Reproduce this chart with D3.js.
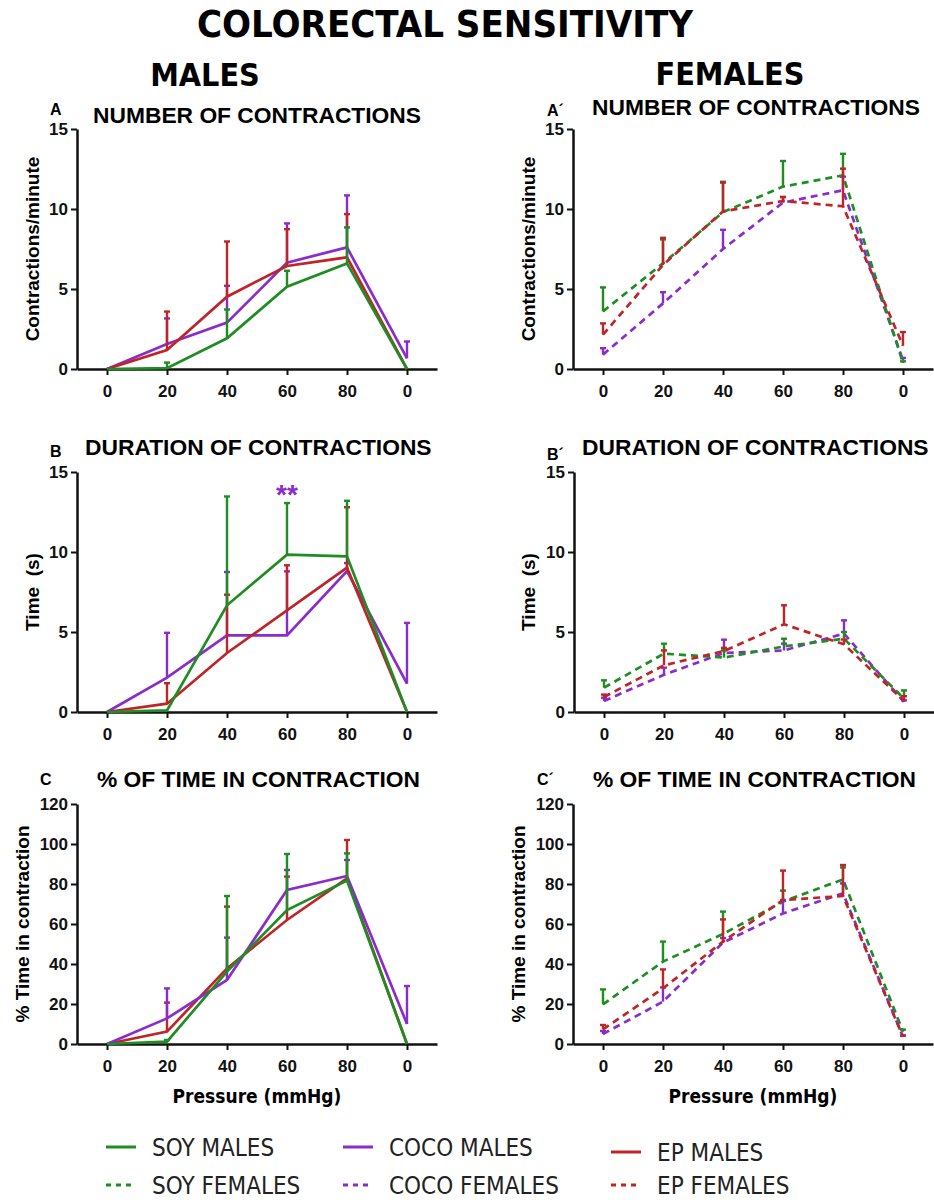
<!DOCTYPE html>
<html>
<head>
<meta charset="utf-8">
<script src="https://cdn.jsdelivr.net/npm/d3@7"></script>
<style>
  body { margin: 0; background: #fff; }
  svg { display: block; }
  .narrow { font-family: "Liberation Sans Narrow", "Arial Narrow", "DejaVu Sans Condensed", sans-serif; }
  .sans { font-family: "Liberation Sans", Arial, sans-serif; }
</style>
</head>
<body>
<div id="chart"></div>
<script>
// x categories (pressure steps, mmHg)
const pressures = ["0", "20", "40", "60", "80", "0"];

// A - number of contractions, males
const soyMalesContr = [0, 0.05, 1.92, 5.14, 6.6, 0];
const soyMalesContrErr = [0, 0.35, 1.8, 1.0, 2.25, 0];
const cocoMalesContr = [0, 1.56, 2.9, 6.65, 7.6, 0.67];
const cocoMalesContrErr = [0, 1.6, 2.3, 2.45, 3.25, 1.05];
const epMalesContr = [0, 1.19, 4.52, 6.44, 6.98, 0];
const epMalesContrErr = [0, 2.4, 3.45, 2.3, 2.7, 0];

// A' - number of contractions, females
const soyFemalesContr = [3.6, 6.6, 9.8, 11.4, 12.1, 0.38];
const soyFemalesContrErr = [1.5, 1.5, 1.9, 1.6, 1.35, 0.1];
const cocoFemalesContr = [0.9, 4.1, 7.5, 10.4, 11.17, 0.54];
const cocoFemalesContrErr = [0.4, 0.7, 1.2, 0.35, 0.85, 0.15];
const epFemalesContr = [2.15, 6.5, 9.85, 10.5, 10.17, 1.46];
const epFemalesContrErr = [0.7, 1.7, 1.8, 0.25, 2.35, 0.85];

// B - duration of contractions, males
const soyMalesDur = [0, 0.1, 6.67, 9.83, 9.73, 0];
const soyMalesDurErr = [0, 0, 6.8, 3.23, 3.47, 0];
const cocoMalesDur = [0, 2.15, 4.79, 4.79, 8.81, 1.77];
const cocoMalesDurErr = [0, 2.8, 3.96, 4.0, 0.5, 3.8];
const epMalesDur = [0, 0.52, 3.69, 6.35, 9.02, 0];
const epMalesDurErr = [0, 1.28, 3.64, 2.82, 3.78, 0];

// B' - duration of contractions, females
const soyFemalesDur = [1.52, 3.65, 3.4, 4.1, 4.58, 0.83];
const soyFemalesDurErr = [0.46, 0.62, 0.45, 0.48, 0.42, 0.52];
const cocoFemalesDur = [0.69, 2.33, 3.69, 3.85, 4.9, 0.63];
const cocoFemalesDurErr = [0.2, 0.44, 0.83, 0.42, 0.83, 0.1];
const epFemalesDur = [0.94, 2.92, 3.81, 5.48, 4.23, 0.69];
const epFemalesDurErr = [0.15, 0.93, 0.2, 1.19, 0.3, 0.3];

// C - % of time in contraction, males
const soyMalesPct = [0, 1.2, 36.2, 67, 81.7, 0];
const soyMalesPctErr = [0, 0.8, 37.8, 28, 13.6, 0];
const cocoMalesPct = [0, 12.8, 32, 77, 84, 10];
const cocoMalesPctErr = [0, 15, 21.2, 10, 8, 19];
const epMalesPct = [0, 6.2, 37.8, 62, 82.8, 0];
const epMalesPctErr = [0, 14.5, 30.9, 21.7, 19.2, 0];

// C' - % of time in contraction, females
const soyFemalesPct = [19.8, 41.2, 55, 71.2, 82.3, 6.2];
const soyFemalesPctErr = [7.5, 10, 11.2, 5.5, 6, 1];
const cocoFemalesPct = [5, 21.2, 50.7, 65.3, 75.3, 3.7];
const cocoFemalesPctErr = [1.5, 7.1, 2.3, 6.7, 5, 0.5];
const epFemalesPct = [7.3, 27.8, 51.2, 72, 74, 3.7];
const epFemalesPctErr = [2.2, 9.5, 11.1, 14.7, 15.5, 0.5];

const countTicks = [0, 5, 10, 15];
const pctTicks = [0, 20, 40, 60, 80, 100, 120];

const GREEN = "#1f8c24";
const PURPLE = "#8a2ccb";
const RED = "#bf2427";

const legendItems = [
    { name: "SOY MALES", color: GREEN, dashed: false, col: 0, row: 0 },
    { name: "SOY FEMALES", color: GREEN, dashed: true, col: 0, row: 1 },
    { name: "COCO MALES", color: PURPLE, dashed: false, col: 1, row: 0 },
    { name: "COCO FEMALES", color: PURPLE, dashed: true, col: 1, row: 1 },
    { name: "EP MALES", color: RED, dashed: false, col: 2, row: 0 },
    { name: "EP FEMALES", color: RED, dashed: true, col: 2, row: 1 }
];

const width = 934;
const height = 1200;

const svg = d3.select("#chart")
    .append("svg")
    .attr("width", width)
    .attr("height", height);

svg.append("text")
    .attr("class", "narrow")
    .attr("x", 445).attr("y", 37)
    .attr("text-anchor", "middle")
    .attr("font-weight", "bold")
    .attr("font-size", 38)
    .text("COLORECTAL SENSITIVITY");

svg.append("text")
    .attr("class", "narrow")
    .attr("x", 205).attr("y", 86)
    .attr("text-anchor", "middle")
    .attr("font-weight", "bold")
    .attr("font-size", 32)
    .text("MALES");

svg.append("text")
    .attr("class", "narrow")
    .attr("x", 730).attr("y", 85)
    .attr("text-anchor", "middle")
    .attr("font-weight", "bold")
    .attr("font-size", 32)
    .text("FEMALES");

function drawPanel(p) {
    const g = svg.append("g");

    const x = d3.scalePoint()
        .domain(d3.range(pressures.length))
        .range([p.axisX, p.axisX + 360])
        .padding(0.5);

    const y = d3.scaleLinear()
        .domain([0, p.yMax])
        .range([p.y0, p.yTop]);

    // y axis
    const yAxis = g.append("g")
        .attr("transform", "translate(" + p.axisX + ",0)")
        .call(d3.axisLeft(y).tickValues(p.ticks).tickSize(6).tickSizeOuter(0).tickPadding(3));

    // x axis
    const xAxis = g.append("g")
        .attr("transform", "translate(0," + p.y0 + ")")
        .call(d3.axisBottom(x).tickFormat(i => pressures[i]).tickSize(6).tickSizeOuter(0).tickPadding(10));

    [yAxis, xAxis].forEach(a => {
        a.select(".domain").attr("stroke", "#111").attr("stroke-width", 2.5);
        a.selectAll(".tick line").attr("stroke", "#111").attr("stroke-width", 2);
        a.selectAll(".tick text")
            .attr("class", "sans")
            .attr("fill", "#111")
            .attr("font-weight", "bold")
            .attr("font-size", 17);
    });

    // series
    const line = d3.line()
        .x((d, i) => x(i))
        .y(d => y(d));

    p.series.forEach(s => {
        const sg = g.append("g");
        sg.append("path")
            .datum(s.values)
            .attr("d", line)
            .attr("fill", "none")
            .attr("stroke", s.color)
            .attr("stroke-width", 2.7)
            .attr("stroke-dasharray", s.dashed ? "7,5" : null);

        const bars = s.values.map((v, i) => ({ i: i, v: v, e: s.errs[i] })).filter(d => d.e > 0);

        sg.selectAll(".err")
            .data(bars)
            .enter()
            .append("line")
            .attr("x1", d => x(d.i)).attr("x2", d => x(d.i))
            .attr("y1", d => y(d.v)).attr("y2", d => y(d.v + d.e))
            .attr("stroke", s.color)
            .attr("stroke-width", 2.4);

        sg.selectAll(".cap")
            .data(bars)
            .enter()
            .append("line")
            .attr("x1", d => x(d.i) - 3).attr("x2", d => x(d.i) + 3)
            .attr("y1", d => y(d.v + d.e)).attr("y2", d => y(d.v + d.e))
            .attr("stroke", s.color)
            .attr("stroke-width", 2.4);
    });

    // labels
    g.append("text")
        .attr("class", "sans")
        .attr("x", p.letterX).attr("y", p.letterY)
        .attr("font-weight", "bold")
        .attr("font-size", 16)
        .text(p.letter);

    g.append("text")
        .attr("class", "sans")
        .attr("x", p.titleX).attr("y", p.titleY)
        .attr("font-weight", "bold")
        .attr("font-size", 22.8)
        .text(p.title);

    g.append("text")
        .attr("class", "sans")
        .attr("transform", "translate(" + p.labelX + "," + ((p.y0 + p.yTop) / 2) + ") rotate(-90)")
        .attr("text-anchor", "middle")
        .attr("dy", "0.35em")
        .attr("font-weight", "bold")
        .attr("font-size", 19)
        .attr("xml:space", "preserve")
        .text(p.ylabel);

    if (p.xlabel) {
        g.append("text")
            .attr("class", "narrow")
            .attr("x", p.axisX + 180).attr("y", p.y0 + 59)
            .attr("text-anchor", "middle")
            .attr("font-weight", "bold")
            .attr("font-size", 19)
            .text(p.xlabel);
    }

    if (p.star) {
        g.append("text")
            .attr("class", "sans")
            .attr("x", x(p.star.i)).attr("y", y(p.star.v))
            .attr("text-anchor", "middle")
            .attr("font-weight", "bold")
            .attr("font-size", 28)
            .attr("fill", PURPLE)
            .text("**");
    }
}

drawPanel({
    axisX: 77, yTop: 129, y0: 369, yMax: 15, ticks: countTicks,
    letter: "A", letterX: 50, letterY: 115,
    title: "NUMBER OF CONTRACTIONS", titleX: 93, titleY: 123,
    ylabel: "Contractions/minute", labelX: 32,
    series: [
        { values: cocoMalesContr, errs: cocoMalesContrErr, color: PURPLE },
        { values: epMalesContr, errs: epMalesContrErr, color: RED },
        { values: soyMalesContr, errs: soyMalesContrErr, color: GREEN }
    ]
});

drawPanel({
    axisX: 573, yTop: 129, y0: 369, yMax: 15, ticks: countTicks,
    letter: "A´", letterX: 547, letterY: 116,
    title: "NUMBER OF CONTRACTIONS", titleX: 592, titleY: 115,
    ylabel: "Contractions/minute", labelX: 528,
    series: [
        { values: cocoFemalesContr, errs: cocoFemalesContrErr, color: PURPLE, dashed: true },
        { values: soyFemalesContr, errs: soyFemalesContrErr, color: GREEN, dashed: true },
        { values: epFemalesContr, errs: epFemalesContrErr, color: RED, dashed: true }
    ]
});

drawPanel({
    axisX: 77, yTop: 472, y0: 712, yMax: 15, ticks: countTicks,
    letter: "B", letterX: 50, letterY: 457,
    title: "DURATION OF CONTRACTIONS", titleX: 85, titleY: 455,
    ylabel: "Time  (s)", labelX: 32,
    star: { i: 3, v: 13.0 },
    series: [
        { values: cocoMalesDur, errs: cocoMalesDurErr, color: PURPLE },
        { values: epMalesDur, errs: epMalesDurErr, color: RED },
        { values: soyMalesDur, errs: soyMalesDurErr, color: GREEN }
    ]
});

drawPanel({
    axisX: 574, yTop: 472, y0: 712, yMax: 15, ticks: countTicks,
    letter: "B´", letterX: 547, letterY: 460,
    title: "DURATION OF CONTRACTIONS", titleX: 582, titleY: 455,
    ylabel: "Time  (s)", labelX: 528,
    series: [
        { values: cocoFemalesDur, errs: cocoFemalesDurErr, color: PURPLE, dashed: true },
        { values: soyFemalesDur, errs: soyFemalesDurErr, color: GREEN, dashed: true },
        { values: epFemalesDur, errs: epFemalesDurErr, color: RED, dashed: true }
    ]
});

drawPanel({
    axisX: 77, yTop: 804, y0: 1044, yMax: 120, ticks: pctTicks,
    letter: "C", letterX: 40, letterY: 785,
    title: "% OF TIME IN CONTRACTION", titleX: 97, titleY: 787,
    ylabel: "% Time in contraction", labelX: 22,
    xlabel: "Pressure (mmHg)",
    series: [
        { values: epMalesPct, errs: epMalesPctErr, color: RED },
        { values: cocoMalesPct, errs: cocoMalesPctErr, color: PURPLE },
        { values: soyMalesPct, errs: soyMalesPctErr, color: GREEN }
    ]
});

drawPanel({
    axisX: 573, yTop: 804, y0: 1044, yMax: 120, ticks: pctTicks,
    letter: "C´", letterX: 537, letterY: 785,
    title: "% OF TIME IN CONTRACTION", titleX: 593, titleY: 787,
    ylabel: "% Time in contraction", labelX: 518,
    xlabel: "Pressure (mmHg)",
    series: [
        { values: soyFemalesPct, errs: soyFemalesPctErr, color: GREEN, dashed: true },
        { values: cocoFemalesPct, errs: cocoFemalesPctErr, color: PURPLE, dashed: true },
        { values: epFemalesPct, errs: epFemalesPctErr, color: RED, dashed: true }
    ]
});

// legend
const colX = [106, 343, 611];
const rowY = [1147, 1185];

const legend = svg.append("g")
    .selectAll("g")
    .data(legendItems)
    .enter()
    .append("g")
    .attr("transform", d => "translate(" + colX[d.col] + "," + (rowY[d.row] + (d.col === 2 && d.row === 0 ? 5 : 0)) + ")");

legend.append("line")
    .attr("x1", 0).attr("x2", 30)
    .attr("y1", 0).attr("y2", 0)
    .attr("stroke", d => d.color)
    .attr("stroke-width", 3)
    .attr("stroke-dasharray", d => d.dashed ? "5,5" : null);

legend.append("text")
    .attr("class", "narrow")
    .attr("x", 46).attr("y", 0)
    .attr("dy", "0.36em")
    .attr("font-size", 24)
    .attr("fill", "#222")
    .text(d => d.name);
</script>
</body>
</html>
